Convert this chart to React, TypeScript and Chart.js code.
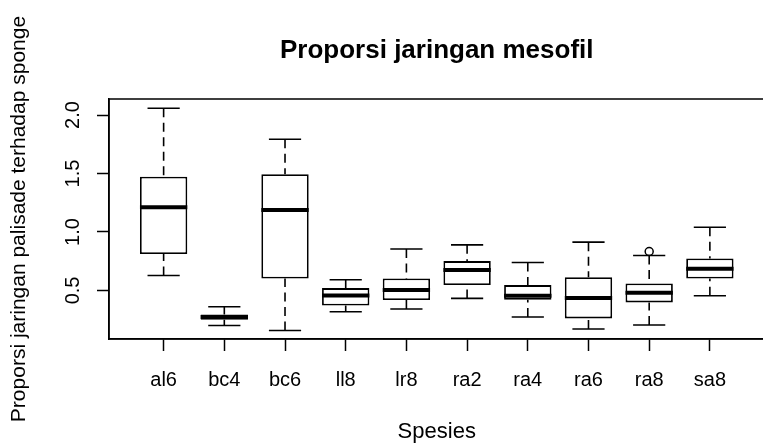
import React, { useEffect, useRef } from 'react';
import { Chart, registerables } from 'chart.js';

Chart.register(...registerables);

const categories = ['al6', 'bc4', 'bc6', 'll8', 'lr8', 'ra2', 'ra4', 'ra6', 'ra8', 'sa8'];
const lowerWhisker = [0.628, 0.201, 0.158, 0.318, 0.341, 0.432, 0.273, 0.17, 0.205, 0.455];
const q1 = [0.811, 0.25, 0.602, 0.372, 0.418, 0.546, 0.421, 0.261, 0.398, 0.602];
const median = [1.212, 0.273, 1.189, 0.457, 0.503, 0.674, 0.455, 0.435, 0.48, 0.685];
const q3 = [1.473, 0.295, 1.494, 0.52, 0.602, 0.751, 0.546, 0.614, 0.56, 0.773];
const upperWhisker = [2.058, 0.361, 1.793, 0.591, 0.854, 0.89, 0.739, 0.913, 0.799, 1.041];
const outlierCategory = ['ra8'];
const outlierValue = [0.833];
const yTicks = [0.5, 1.0, 1.5, 2.0];

const titleText = 'Proporsi jaringan mesofil';
const xTitle = 'Spesies';
const yTitle = 'Proporsi jaringan palisade terhadap sponge';

const FONT = '"Liberation Sans", Arial, sans-serif';

export default function App() {
  const ref = useRef<HTMLCanvasElement>(null);

  useEffect(() => {
    if (!ref.current) return;

    const boxExtras = {
      id: 'boxExtras',
      afterDatasetsDraw(chart: any) {
        const { ctx, chartArea } = chart;
        const y = chart.scales.y;
        const meta = chart.getDatasetMeta(0);
        ctx.save();
        ctx.strokeStyle = '#000';
        meta.data.forEach((bar: any, i: number) => {
          const x = bar.x;
          const w = bar.width;
          const pUW = y.getPixelForValue(upperWhisker[i]);
          const pLW = y.getPixelForValue(lowerWhisker[i]);
          const pQ1 = y.getPixelForValue(q1[i]);
          const pQ3 = y.getPixelForValue(q3[i]);
          const pMed = y.getPixelForValue(median[i]);
          // dashed whiskers
          ctx.lineWidth = 1.6;
          ctx.setLineDash([9, 5.5]);
          ctx.beginPath();
          ctx.moveTo(x, pUW);
          ctx.lineTo(x, pQ3);
          ctx.moveTo(x, pLW);
          ctx.lineTo(x, pQ1);
          ctx.stroke();
          ctx.setLineDash([]);
          // staples
          const cw = (w * 0.68) / 2;
          ctx.beginPath();
          ctx.moveTo(x - cw, pUW);
          ctx.lineTo(x + cw, pUW);
          ctx.moveTo(x - cw, pLW);
          ctx.lineTo(x + cw, pLW);
          ctx.stroke();
          // median
          ctx.lineWidth = 4;
          ctx.beginPath();
          ctx.moveTo(x - w / 2, pMed);
          ctx.lineTo(x + w / 2, pMed);
          ctx.stroke();
        });
        // frame
        ctx.lineWidth = 1.5;
        ctx.strokeRect(chartArea.left, chartArea.top, chartArea.right - chartArea.left, chartArea.bottom - chartArea.top);
        ctx.restore();
      },
    };

    const chart = new Chart(ref.current, {
      type: 'bar',
      data: {
        datasets: [
          {
            type: 'bar',
            data: categories.map((c, i) => ({ x: i + 1, y: [q1[i], q3[i]] })) as any,
            backgroundColor: '#fff',
            borderColor: '#000',
            borderWidth: 1.8,
            borderSkipped: false,
            barPercentage: 0.78,
            categoryPercentage: 1,
          } as any,
          {
            type: 'scatter',
            data: outlierCategory.map((c, i) => ({ x: categories.indexOf(c) + 1, y: outlierValue[i] })),
            pointRadius: 4,
            pointBackgroundColor: '#fff',
            pointBorderColor: '#000',
            pointBorderWidth: 1.5,
            showLine: false,
          } as any,
        ],
      },
      options: {
        responsive: false,
        animation: false,
        devicePixelRatio: 1,
        layout: { padding: { top: 0, left: 0, right: 4, bottom: 0 } },
        plugins: {
          legend: { display: false },
          tooltip: { enabled: false },
          title: {
            display: true,
            text: titleText,
            fullSize: false,
            color: '#000',
            font: { family: FONT, size: 26, weight: 'bold', lineHeight: 1 },
            padding: { top: 38, bottom: 35 },
          },
        },
        scales: {
          x: {
            type: 'linear',
            offset: false,
            min: 0.1,
            max: 10.9,
            afterBuildTicks: (s: any) => {
              s.ticks = categories.map((_, i) => ({ value: i + 1 }));
            },
            afterFit: (s: any) => {
              s.height = 104;
            },
            ticks: {
              callback: (v: any) => categories[Math.round(Number(v)) - 1] ?? '',
              autoSkip: false,
              maxRotation: 0,
              minRotation: 0,
              padding: 17,
              color: '#000',
              font: { family: FONT, size: 20 },
            },
            grid: {
              display: true,
              offset: false,
              drawOnChartArea: false,
              drawTicks: true,
              tickLength: 12,
              tickColor: '#000',
              tickWidth: 1.5,
            },
            border: { display: true, color: '#000', width: 1.5 },
            title: {
              display: true,
              text: xTitle,
              color: '#000',
              font: { family: FONT, size: 22, lineHeight: 1 },
              padding: { top: 0, bottom: 0 },
            },
          },
          y: {
            type: 'linear',
            min: 0.085,
            max: 2.137,
            afterBuildTicks: (s: any) => {
              s.ticks = yTicks.map((v) => ({ value: v }));
            },
            afterFit: (s: any) => {
              s.width = 109;
            },
            ticks: {
              callback: (v: any) => Number(v).toFixed(1),
              minRotation: 90,
              maxRotation: 90,
              crossAlign: 'center',
              padding: 10,
              color: '#000',
              font: { family: FONT, size: 20 },
            },
            grid: {
              display: true,
              drawOnChartArea: false,
              drawTicks: true,
              tickLength: 12,
              tickColor: '#000',
              tickWidth: 1.5,
            },
            border: { display: true, color: '#000', width: 1.5 },
            title: {
              display: true,
              text: yTitle,
              color: '#000',
              font: { family: FONT, size: 21, lineHeight: 1 },
              padding: { top: 9, bottom: 0 },
            },
          },
        },
      } as any,
      plugins: [boxExtras],
    });

    return () => chart.destroy();
  }, []);

  return (
    <div
      style={{
        position: 'absolute',
        left: 0,
        top: 0,
        width: 763,
        height: 443,
        overflow: 'hidden',
        background: '#fff',
      }}
    >
      <canvas ref={ref} width={770} height={443} style={{ display: 'block' }} />
    </div>
  );
}
